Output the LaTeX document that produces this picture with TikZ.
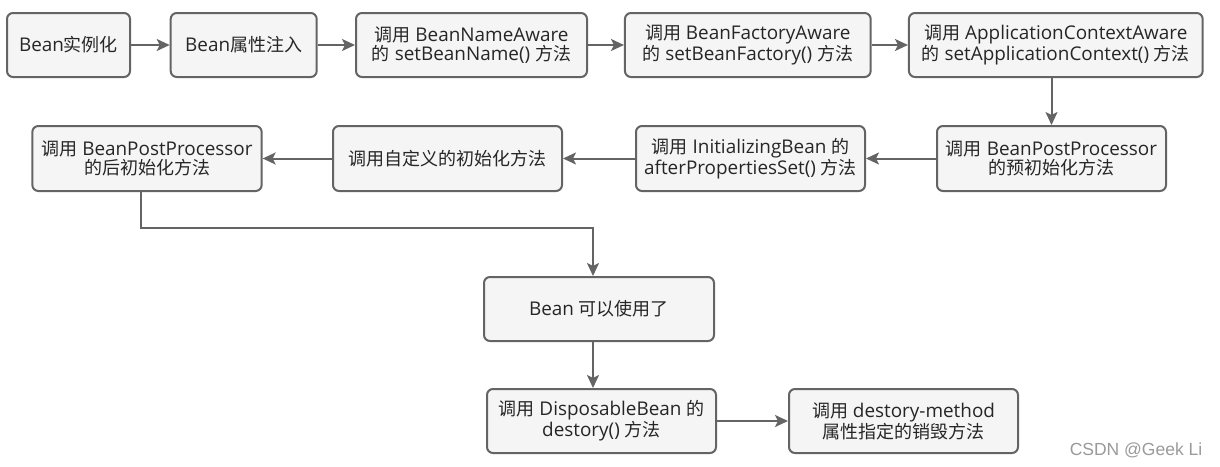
\documentclass[tikz,border=0pt]{standalone}
\usepackage{fontspec}
\setmainfont{Open Sans}[Scale=1.05]
\newfontfamily\cjk{Noto Sans CJK SC}
\newfontfamily\wmfont{Liberation Sans}
\usetikzlibrary{arrows.meta}
\definecolor{lineC}{HTML}{646464}
\definecolor{fillC}{HTML}{F5F5F5}
\definecolor{textC}{HTML}{262626}
\definecolor{wmC}{HTML}{9A9A9A}
\tikzset{
  box/.style={draw=lineC, fill=fillC, line width=2pt, rounded corners=6pt,
    align=center, inner sep=0pt, text=textC, minimum height=64pt,
    font=\fontsize{18}{19}\selectfont},
  arr/.style={draw=lineC, line width=2pt,
    -{Stealth[length=13pt,width=12pt,inset=3pt]}},
  conn/.style={draw=lineC, line width=2pt}
}
\begin{document}
\begin{tikzpicture}[x=1pt,y=-1pt]
\useasboundingbox (0,0) rectangle (1220,466);
\fill[white] (0,0) rectangle (1220,466);
% row 1
\node[box, minimum width=123pt] (b1) at (68.5,45) {Bean{\cjk 实例化}};
\node[box, minimum width=146pt] (b2) at (243.7,45) {Bean{\cjk 属性注入}};
\node[box, minimum width=231pt] (b3) at (471.5,45) {{\cjk 调用} BeanNameAware\\{\cjk 的} setBeanName() {\cjk 方法}};
\node[box, minimum width=245.7pt] (b4) at (747.8,45) {{\cjk 调用} BeanFactoryAware\\{\cjk 的} setBeanFactory() {\cjk 方法}};
\node[box, minimum width=293.7pt] (b5) at (1055.8,45) {{\cjk 调用} ApplicationContextAware\\{\cjk 的} setApplicationContext() {\cjk 方法}};
% row 2
\node[box, minimum width=229.3pt, minimum height=65pt] (c1) at (147,158.5) {{\cjk 调用} BeanPostProcessor\\{\cjk 的后初始化方法}};
\node[box, minimum width=229pt, minimum height=65pt] (c2) at (447.5,158.5) {{\cjk 调用自定义的初始化方法}};
\node[box, minimum width=229pt, minimum height=65pt] (c3) at (750.5,158.5) {{\cjk 调用} InitializingBean {\cjk 的}\\afterPropertiesSet() {\cjk 方法}};
\node[box, minimum width=229pt, minimum height=65pt] (c4) at (1051.5,158.5) {{\cjk 调用} BeanPostProcessor\\{\cjk 的预初始化方法}};
% lower part
\node[box, minimum width=230pt] (d1) at (599,309) {Bean {\cjk 可以使用了}};
\node[box, minimum width=229pt] (e1) at (601.5,421) {{\cjk 调用} DisposableBean {\cjk 的}\\destory() {\cjk 方法}};
\node[box, minimum width=229pt] (e2) at (903.5,421) {{\cjk 调用} destory-method\\{\cjk 属性指定的销毁方法}};
% watermark
\node[text=wmC, font=\wmfont\fontsize{17.5}{18}\selectfont, inner sep=0pt] (wm) at (1136,450) {CSDN @Geek Li};
% connectors
\draw[arr] (b1) -- (b2);
\draw[arr] (b2) -- (b3);
\draw[arr] (b3) -- (b4);
\draw[arr] (b4) -- (b5);
\draw[arr] (b5.south -| c4) -- (c4.north);
\draw[arr] (c4) -- (c3);
\draw[arr] (c3) -- (c2);
\draw[arr] (c2) -- (c1);
\coordinate (k1) at (141,228);
\coordinate (k2) at (593,228);
\draw[arr] (c1.south -| k1) -- (k1) -- (k2) -- (d1.north -| k2);
\draw[arr] (d1.south -| k2) -- (e1.north -| k2);
\draw[arr] (e1) -- (e2);
\end{tikzpicture}
\end{document}
